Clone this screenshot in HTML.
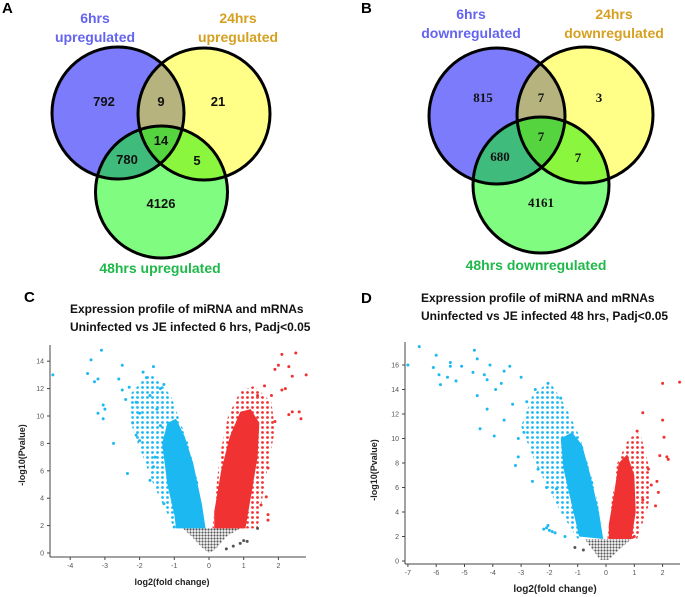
<!DOCTYPE html>
<html><head><meta charset="utf-8"><style>
html,body{margin:0;padding:0;background:#fff;}
svg{display:block;font-family:"Liberation Sans",sans-serif;}
</style></head><body>
<svg id="fig" width="685" height="597" viewBox="0 0 685 597">
<defs>
<pattern id="dotB" width="5" height="5" patternUnits="userSpaceOnUse"><circle cx="2.5" cy="2.5" r="1.4" fill="#1cb8f2"/></pattern>
<pattern id="dotR" width="5" height="5" patternUnits="userSpaceOnUse"><circle cx="2.5" cy="2.5" r="1.4" fill="#f03232"/></pattern>
<pattern id="dotG" width="3" height="3" patternUnits="userSpaceOnUse"><circle cx="1.5" cy="1.5" r="1.1" fill="#555"/></pattern>
</defs>
<g id="venns"></g>
<g id="volc"></g>
</svg>
<script>
const NS="http://www.w3.org/2000/svg";
const svg=document.getElementById('fig');
function mk(tag,attrs,parent){const e=document.createElementNS(NS,tag);for(const k in attrs)e.setAttribute(k,attrs[k]);(parent||svg).appendChild(e);return e;}

// ---------- Venn data ----------
const vennA_counts=["792","9","21","14","780","5","4126"];
const vennB_counts=["815","7","3","7","680","7","4161"];
const vennA_labels=["6hrs","upregulated","24hrs","upregulated","48hrs upregulated"];
const vennB_labels=["6hrs","downregulated","24hrs","downregulated","48hrs downregulated"];

function venn(id,c,r,counts,labels,pos,lpos,serif,letter,letterPos){
  const g=mk('g',{}, svg);
  
  
  const cp=[];
  for(let i=0;i<3;i++){const clip=mk('clipPath',{id:id+'c'+i},g);mk('circle',{cx:c[i][0],cy:c[i][1],r:r},clip);cp.push('url(#'+id+'c'+i+')');}
  const base=['#7b7bfb','#ffff88','#80fc80'];
  for(let i=0;i<3;i++){const e=mk('circle',{cx:c[i][0],cy:c[i][1],r:r,fill:base[i]},g);
    
    }
  const g01=mk('g',{'clip-path':cp[0]},g);mk('circle',{cx:c[1][0],cy:c[1][1],r:r,fill:'#b6b37e'},g01);
  const g02=mk('g',{'clip-path':cp[0]},g);mk('circle',{cx:c[2][0],cy:c[2][1],r:r,fill:'#3fbb7c'},g02);
  const g12=mk('g',{'clip-path':cp[1]},g);mk('circle',{cx:c[2][0],cy:c[2][1],r:r,fill:'#8af73e'},g12);
  const g0=mk('g',{'clip-path':cp[0]},g);const g012=mk('g',{'clip-path':cp[1]},g0);mk('circle',{cx:c[2][0],cy:c[2][1],r:r,fill:'#56d440'},g012);
  for(let i=0;i<3;i++)mk('circle',{cx:c[i][0],cy:c[i][1],r:r,fill:'none',stroke:'#000','stroke-width':3},g);
  counts.forEach((t,i)=>{const e=mk('text',{x:pos[i][0],y:pos[i][1],'text-anchor':'middle','font-size':13,'font-weight':'bold','font-family':serif?'"Liberation Serif",serif':'"Liberation Sans",sans-serif',fill:'#111'},g);e.textContent=t;
    
    });
  const cols=['#6464f0','#6464f0','#d6a020','#d6a020','#1fb84a'];
  labels.forEach((t,i)=>{const e=mk('text',{x:lpos[i][0],y:lpos[i][1],'text-anchor':'middle','font-size':14,'font-weight':'bold',fill:cols[i]},g);e.textContent=t;
    
    });
  const L=mk('text',{x:letterPos[0],y:letterPos[1],'font-size':15,'font-weight':'bold',fill:'#000'},g);L.textContent=letter;
  
  
}
venn('A',[[118,113],[204,114],[161.5,192]],66,vennA_counts,vennA_labels,
 [[104,106],[161,106],[218,106],[161,145],[127,164],[197,165],[161,208]],
 [[95,23],[95,42],[238,23],[238,42],[160,273]],false,'A',[2,13]);
venn('B',[[497,116],[585,115],[541,185]],68,vennB_counts,vennB_labels,
 [[483,102],[541,102],[599,102],[541,141],[500,161],[578,162],[541,207]],
 [[471,19],[471,38],[614,19],[614,38],[536,270]],true,'B',[361,13]);

// ---------- Volcano C data ----------
const cXTicks=[-4,-3,-2,-1,0,1,2];
const cYTicks=[0,2,4,6,8,10,12,14];
const cBlueSparse=[[-1.0,1.8],[-1.6,5],[-2.2,9],[-2.3,11.5],[-1.7,13.2],[-1.1,11.5],[-0.6,8],[-0.3,5]];
const cBlueDense=[[-0.95,1.8],[-0.1,1.8],[-0.2,3.5],[-0.45,6.5],[-0.7,8.5],[-0.95,9.8],[-1.2,9.5],[-1.35,8],[-1.2,5],[-1.0,2.8]];
const cRedSparse=[[0.1,1.8],[1.4,1.8],[1.6,5],[1.9,9],[1.8,11],[1.3,12.2],[0.9,11.8],[0.55,10],[0.3,7]];
const cRedDense=[[0.15,1.8],[1.05,1.8],[1.2,4],[1.4,7],[1.45,9.5],[1.2,10.5],[0.9,10.3],[0.6,8.5],[0.35,6],[0.15,3]];
const cGray=[[-0.75,1.8],[0.9,1.8],[0.5,1.2],[0.2,0.3],[0,0],[-0.2,0.4],[-0.5,1.2]];
const cBluePts=[[-4.5,13],[-3.1,14.8],[-3.4,14.1],[-3.5,13.1],[-3.3,12.5],[-3.2,12.7],[-3.05,10.8],[-3,10.5],[-3.2,10.2],[-3.05,9.8],[-2.75,8],[-2.35,5.8],[-2.5,13.7],[-2.6,12.7],[-2.5,11.9],[-2.3,12.1],[-2.1,11],[-2.0,10.2],[-2.2,9.5],[-2.4,11.2],[-1.6,13.6],[-1.9,13.2],[-1.8,12.8],[-1.7,11.5],[-1.5,10.5],[-1.4,9.3],[-2.1,8.6],[-2.0,8.2],[-1.6,6.3],[-1.7,5.3],[-1.3,3.6],[-1.0,1.9],[-1.4,12],[-1.3,12.3],[-1.55,7]];
const cRedPts=[[2.5,14.6],[2.1,14.5],[2.8,13],[2.3,13.6],[1.9,13.4],[2.0,13.7],[2.4,12.9],[2.2,12],[2.1,11.9],[2.6,10.3],[2.65,9.8],[2.4,10.3],[2.3,10.1],[1.9,9.6],[1.7,6.2],[1.65,4.1],[1.7,2.8],[1.7,2.4],[1.5,3.5],[1.8,11.5],[1.6,12.2],[1.4,11.5]];
const cGrayPts=[[0.5,0.3],[0.7,0.5],[0.9,0.7],[1.0,0.9],[1.1,0.85],[1.4,1.8]];

// ---------- Volcano D data ----------
const dXTicks=[-7,-6,-5,-4,-3,-2,-1,0,1,2];
const dYTicks=[0,2,4,6,8,10,12,14,16];
const dBlueSparse=[[-1.0,1.8],[-1.6,4],[-2.5,8],[-3.0,11],[-2.6,13.5],[-2.0,14.7],[-1.4,12.5],[-0.9,10],[-0.4,6],[-0.15,3]];
const dBlueDense=[[-0.95,2],[-0.1,1.8],[-0.25,4],[-0.55,7],[-0.85,9.5],[-1.2,10.5],[-1.6,10],[-1.5,7.5],[-1.2,4.5]];
const dRedSparse=[[0.05,1.8],[1.1,1.8],[1.5,4.5],[1.6,7],[1.2,10.5],[0.8,10],[0.4,8],[0.15,4]];
const dRedDense=[[0.1,1.8],[0.9,1.8],[1.05,4],[1.0,7],[0.75,8.7],[0.45,8],[0.25,5],[0.1,3]];
const dGray=[[-0.75,1.8],[0.9,1.8],[0.5,1],[0.1,0.1],[-0.2,0.1],[-0.5,1]];
const dBluePts=[[-7,16],[-6.6,17.5],[-6.1,15.8],[-6,16.8],[-5.9,15.2],[-5.85,14.4],[-5.6,15],[-5.5,16.2],[-5.5,15.9],[-5.3,14.7],[-5.1,15.9],[-4.65,17.2],[-4.55,16.5],[-4.7,15.4],[-4.55,13.5],[-4.45,10.8],[-4.3,15.2],[-4.1,16],[-4.2,14.8],[-4.2,12.4],[-3.95,10.2],[-3.9,14],[-3.6,15.5],[-3.4,15.9],[-3.6,11.5],[-3.7,14.5],[-3.0,15],[-3.2,7.8],[-3.1,8.5],[-2.9,10.5],[-3.1,10],[-2.2,2.6],[-2.1,2.7],[-2,2.5],[-1.9,2.4],[-1.8,2.3],[-2.05,2.9],[-1.45,2],[-2.4,7.5],[-2.6,6.5],[-2.1,6],[-1.75,5.9],[-1.6,13.3],[-2.05,14.5],[-2.8,13],[-3.3,12.8],[-2.5,14]];
const dRedPts=[[2,14.5],[2.6,14.6],[1.3,12.1],[2.0,11.5],[2.05,10.1],[2.15,8.5],[2.2,8.3],[1.9,8.6],[1.8,6.5],[1.85,5.6],[1.6,6.2],[1.5,7.5],[1.1,10.6],[1.0,2],[1.3,5],[1.75,4.5]];
const dGrayPts=[[-1.1,1.1],[-0.8,0.9]];

function volcano(cfg){
  const g=mk('g',{},svg);
  
  
  const X=v=>cfg.x0+v*cfg.kx, Y=v=>cfg.y0-v*cfg.ky;
  const poly=(pts,fill,name)=>{const e=mk('polygon',{points:pts.map(p=>X(p[0])+','+Y(p[1])).join(' '),fill:fill},g);
    
    };
  poly(cfg.bs,'url(#dotB)','downregulated-sparse-cloud');
  poly(cfg.rs,'url(#dotR)','upregulated-sparse-cloud');
  poly(cfg.bd,'#1cb8f2','downregulated-dense-cloud');
  poly(cfg.rd,'#f03232','upregulated-dense-cloud');
  poly(cfg.gr,'url(#dotG)','nonsignificant-cloud');
  const dots=(arr,col,name)=>arr.forEach(p=>{const e=mk('circle',{cx:X(p[0]),cy:Y(p[1]),r:1.5,fill:col},g);
    
    });
  dots(cfg.bp,'#1cb8f2','downregulated-point');dots(cfg.rp,'#f03232','upregulated-point');dots(cfg.gp,'#555','nonsignificant-point');
  mk('line',{x1:cfg.ax,y1:cfg.top,x2:cfg.ax,y2:cfg.ab,stroke:'#444','stroke-width':1},g);
  mk('line',{x1:cfg.ax,y1:cfg.ab,x2:cfg.right,y2:cfg.ab,stroke:'#444','stroke-width':1},g);
  cfg.xt.forEach(t=>{mk('line',{x1:X(t),y1:cfg.ab,x2:X(t),y2:cfg.ab+3,stroke:'#444'},g);
    const e=mk('text',{x:X(t),y:cfg.ab+11,'text-anchor':'middle','font-size':7,fill:'#555'},g);e.textContent=t;
    
    });
  cfg.yt.forEach(t=>{mk('line',{x1:cfg.ax-3,y1:Y(t),x2:cfg.ax,y2:Y(t),stroke:'#444'},g);
    const e=mk('text',{x:cfg.ax-6,y:Y(t)+2.5,'text-anchor':'end','font-size':7,fill:'#555'},g);e.textContent=t;
    
    });
  const yl=mk('text',{x:0,y:0,transform:'translate('+cfg.ylx+','+cfg.yly+') rotate(-90)','text-anchor':'middle','font-size':9,'font-weight':'bold',fill:'#222'},g);yl.textContent='-log10(Pvalue)';
  
  
  const xl=mk('text',{x:cfg.xlx,y:cfg.xly,'text-anchor':'middle','font-size':cfg.xfs,'font-weight':'bold',fill:'#222'},g);xl.textContent='log2(fold change)';
  
  
  cfg.title.forEach((t,i)=>{const e=mk('text',{x:cfg.tx,y:cfg.ty+i*18,'font-size':12,'font-weight':'bold',fill:'#111'},g);e.textContent=t;
    
    });
  const L=mk('text',{x:cfg.lx,y:cfg.ly,'font-size':15,'font-weight':'bold',fill:'#000'},g);L.textContent=cfg.id;
  
  
}
volcano({id:'C',x0:209,kx:34.7,y0:553,ky:13.7,ax:50,ab:557,top:345,right:306,xt:cXTicks,yt:cYTicks,
 bs:cBlueSparse,bd:cBlueDense,rs:cRedSparse,rd:cRedDense,gr:cGray,bp:cBluePts,rp:cRedPts,gp:cGrayPts,
 ylx:25,yly:455,xlx:172,xly:585,xfs:9,title:['Expression profile of miRNA and mRNAs','Uninfected vs JE infected 6 hrs, Padj<0.05'],tx:70,ty:313,lx:24,ly:302});
volcano({id:'D',x0:606,kx:28.3,y0:561,ky:12.25,ax:405,ab:564,top:342,right:680,xt:dXTicks,yt:dYTicks,
 bs:dBlueSparse,bd:dBlueDense,rs:dRedSparse,rd:dRedDense,gr:dGray,bp:dBluePts,rp:dRedPts,gp:dGrayPts,
 ylx:377,yly:470,xlx:555,xly:592,xfs:10,title:['Expression profile of miRNA and mRNAs','Uninfected vs JE infected 48 hrs, Padj<0.05'],tx:421,ty:302,lx:361,ly:303});
</script>
</body></html>
